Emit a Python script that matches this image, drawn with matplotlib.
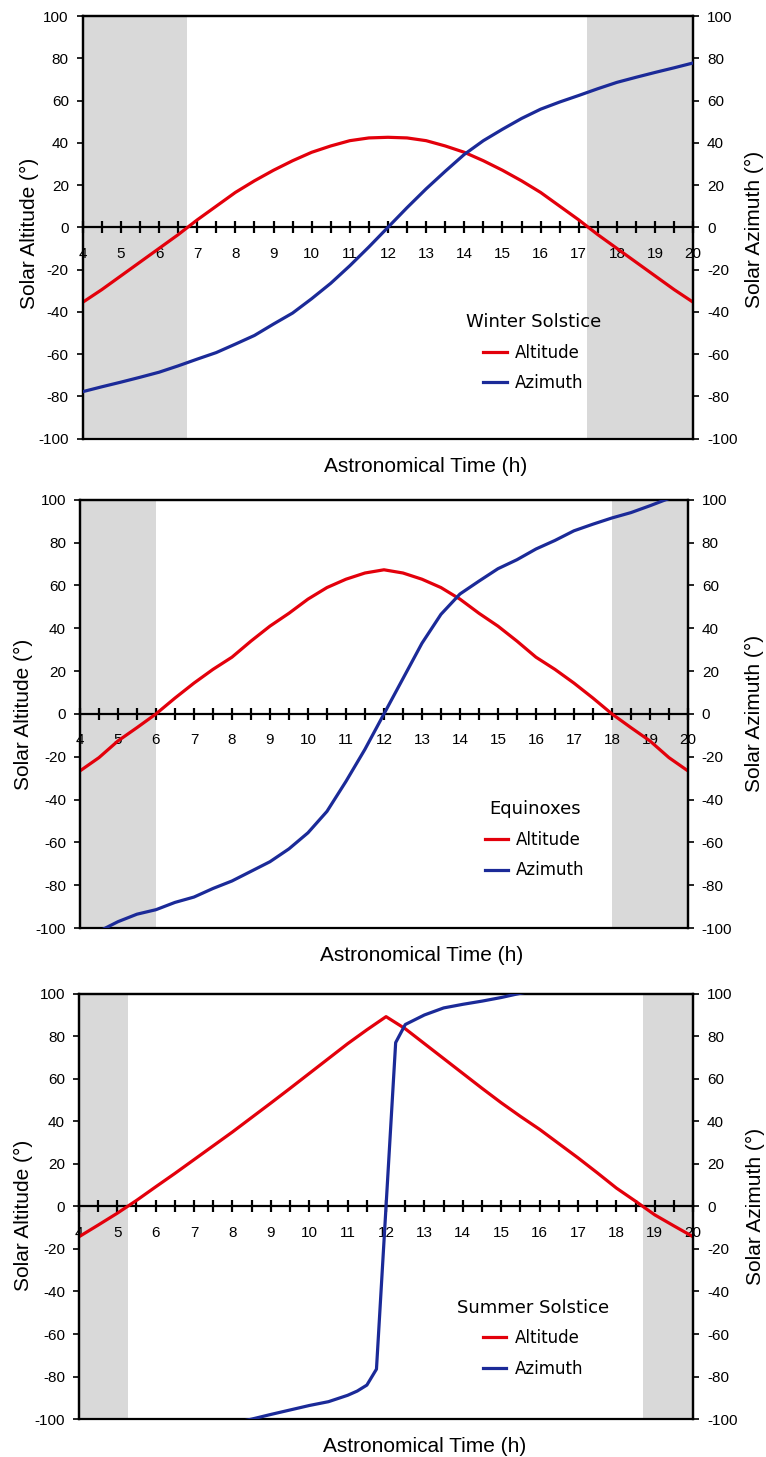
import matplotlib

matplotlib.use("Agg")
import matplotlib.pyplot as plt  # noqa: E402

RED = "#E3000B"
BLUE = "#1B2A98"
NIGHT = "#D9D9D9"

# half-hourly times shared by the altitude curves
hours = [4, 4.5, 5, 5.5, 6, 6.5, 7, 7.5, 8, 8.5, 9, 9.5, 10, 10.5, 11, 11.5,
         12, 12.5, 13, 13.5, 14, 14.5, 15, 15.5, 16, 16.5, 17, 17.5, 18,
         18.5, 19, 19.5, 20]

# winter solstice
winter_alt = [-35.5, -29.5, -23, -16.5, -10, -3.5, 3.5, 10, 16.5, 22, 27,
              31.5, 35.5, 38.5, 41, 42.3, 42.6, 42.3, 41, 38.5, 35.5, 31.5,
              27, 22, 16.5, 10, 3.5, -3.5, -10, -16.5, -23, -29.5, -35.5]
winter_az = [-77.8, -75.5, -73.3, -71, -68.6, -65.6, -62.4, -59.3, -55.3,
             -51.2, -45.8, -40.6, -33.8, -26.5, -18.2, -9.3, 0, 9.3, 18.2,
             26.5, 34.5, 41, 46.4, 51.5, 55.9, 59.3, 62.4, 65.6, 68.6, 71,
             73.3, 75.5, 77.8]
winter_night = (6.72, 17.22)

# equinoxes
equinox_alt = [-26.6, -20.4, -12.6, -6.4, 0, 7.4, 14.4, 20.8, 26.5, 34, 41,
               47, 53.6, 59, 62.9, 65.8, 67.3, 65.8, 62.9, 59, 53.6, 47, 41,
               34, 26.5, 20.8, 14.4, 7.4, 0, -6.4, -12.6, -20.4, -26.6]
equinox_az = [-104, -101.5, -97, -93.5, -91.4, -88, -85.5, -81.5, -78,
              -73.5, -69, -63, -55.5, -45.5, -31.5, -16.5, 0, 16.5, 33,
              46.5, 56, 62, 67.8, 72, 77, 81, 85.5, 88.6, 91.5, 94, 97.2,
              100.6, 103]
equinox_night = (6.0, 18.0)

# summer solstice: azimuth is sampled more densely around noon
summer_alt = [-14.3, -8.8, -3.2, 2.8, 9.2, 15.5, 22, 28.5, 35, 41.8, 48.6,
              55.5, 62.5, 69.5, 76.5, 83, 89.2, 83.5, 76.5, 69.5, 62.5, 55.5,
              48.7, 42.3, 36.2, 29.5, 22.8, 15.8, 8.6, 2.4, -4, -9.2, -14.3]
summer_az_hours = [8, 8.5, 9, 9.5, 10, 10.5, 11, 11.25, 11.5, 11.75, 12.25,
                   12.5, 13, 13.5, 14, 14.5, 15, 15.5, 16]
summer_az = [-102, -100, -97.8, -95.7, -93.6, -91.8, -88.8, -86.8, -84,
             -76.5, 77, 85.5, 90, 93.3, 95, 96.5, 98.2, 100.2, 102]
summer_night = (5.28, 18.68)

panels = [
    ("Winter Solstice", hours, winter_alt, hours, winter_az, winter_night,
     [0.108, 0.699, 0.797, 0.290], (0.738, 0.203), (-0.072, 0.485),
     (1.085, 0.494)),
    ("Equinoxes", hours, equinox_alt, hours, equinox_az, equinox_night,
     [0.1044, 0.363, 0.7937, 0.294], (0.748, 0.206), (-0.077, 0.5),
     (1.094, 0.5)),
    ("Summer Solstice", hours, summer_alt, summer_az_hours, summer_az,
     summer_night, [0.103, 0.026, 0.802, 0.292], (0.739, 0.190),
     (-0.075, 0.478), (1.085, 0.499)),
]

tick_font = {"family": "Liberation Sans", "size": 11}
label_font = {"family": "Liberation Sans", "size": 15}

fig = plt.figure(figsize=(7.66, 14.57), dpi=100)

for (title, t_alt, alt, t_az, az, night, rect, leg_pos, left_lab,
     right_lab) in panels:
    ax = fig.add_axes(rect)
    ax.set_xlim(4, 20)
    ax.set_ylim(-100, 100)

    ax.axvspan(4, night[0], color=NIGHT, lw=0, zorder=0)
    ax.axvspan(night[1], 20, color=NIGHT, lw=0, zorder=0)

    ln_alt, = ax.plot(t_alt, alt, color=RED, lw=2.3, zorder=3,
                      label="Altitude")

    # time axis runs along the horizon line
    ax.spines["bottom"].set_position(("data", 0))
    for s in ax.spines.values():
        s.set_linewidth(1.6)
    ax.set_xticks(range(4, 21))
    ax.set_xticks([h + 0.5 for h in range(4, 20)], minor=True)
    ax.tick_params(axis="x", which="both", direction="inout", length=8,
                   width=1.6, pad=10)
    ax.set_xticklabels([str(h) for h in range(4, 21)], fontdict=tick_font)
    ax.set_yticks(range(-100, 101, 20))
    ax.set_yticklabels([str(v) for v in range(-100, 101, 20)],
                       fontdict=tick_font)
    ax.tick_params(axis="y", direction="out", length=4, width=1.2, pad=6)

    ax2 = ax.twinx()
    ax2.set_ylim(-100, 100)
    ln_az, = ax2.plot(t_az, az, color=BLUE, lw=2.3, zorder=3,
                      label="Azimuth")
    for s in ax2.spines.values():
        s.set_linewidth(1.6)
    ax2.set_yticks(range(-100, 101, 20))
    ax2.set_yticklabels([str(v) for v in range(-100, 101, 20)],
                        fontdict=tick_font)
    ax2.tick_params(axis="y", direction="out", length=4, width=1.2, pad=6)

    ax.set_ylabel("Solar Altitude (°)", fontdict=label_font)
    ax.yaxis.set_label_coords(*left_lab)
    ax2.set_ylabel("Solar Azimuth (°)", fontdict=label_font)
    ax2.yaxis.set_label_coords(*right_lab)

    ax.text(0.562, -0.065, "Astronomical Time (h)", transform=ax.transAxes,
            ha="center", va="center", family="Liberation Sans", size=15)

    ax2.legend([ln_alt, ln_az], ["Altitude", "Azimuth"], title=title,
               loc="center", bbox_to_anchor=leg_pos, frameon=False,
               prop={"family": "DejaVu Sans", "size": 12},
               title_fontproperties={"family": "DejaVu Sans", "size": 13},
               handlelength=1.4, handletextpad=0.5, labelspacing=0.75)

fig.savefig("out.png", dpi=100)
